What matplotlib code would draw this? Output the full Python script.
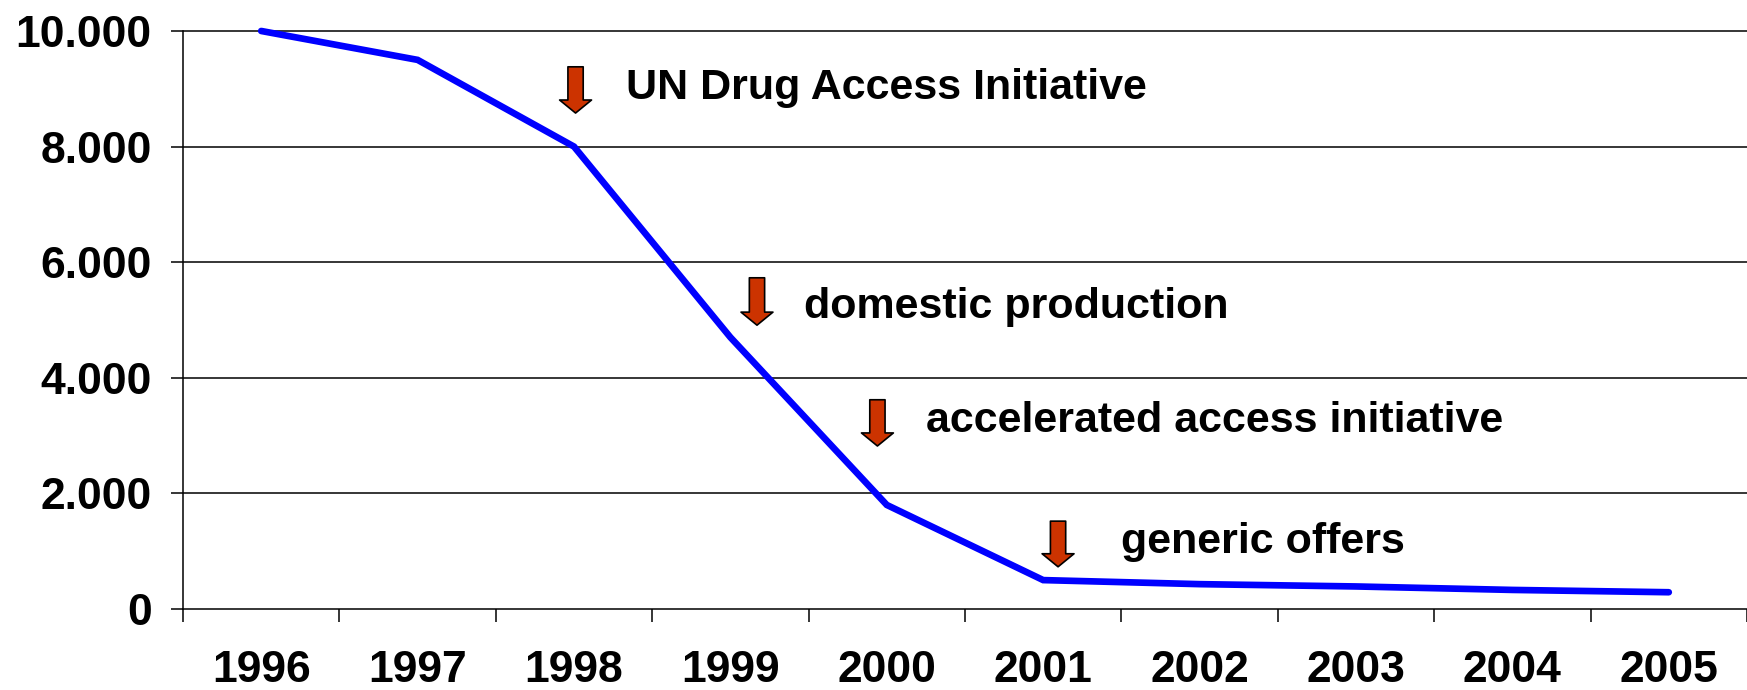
import numpy as np
import matplotlib
matplotlib.use("Agg")
import matplotlib.pyplot as plt

# Data
years = ["1996", "1997", "1998", "1999", "2000", "2001", "2002", "2003", "2004", "2005"]
values = [10000, 9500, 8000, 4700, 1800, 500, 430, 390, 330, 290]
y_ticks = [0, 2000, 4000, 6000, 8000, 10000]
y_tick_labels = ["0", "2.000", "4.000", "6.000", "8.000", "10.000"]

# Event labels with arrow x position, arrow top/bottom and text anchor (data units)
events = ["UN Drug Access Initiative", "domestic production",
          "accelerated access initiative", "generic offers"]
arrow_x = [2.01, 3.17, 3.94, 5.095]
arrow_top = [9380, 5730, 3620, 1520]
arrow_bottom = [8580, 4910, 2820, 730]
text_x = [2.33, 3.47, 4.25, 5.50]
text_y = [9010, 5230, 3260, 1160]

plt.rcParams["font.family"] = ["Liberation Sans", "DejaVu Sans"]
plt.rcParams["font.weight"] = "bold"

fig = plt.figure(figsize=(17.47, 6.90), dpi=100)
ax = fig.add_axes([183 / 1747, 81 / 690, 1 - 183 / 1747, 583.8 / 690])

x = np.arange(len(years))
ax.plot(x, values, color="#0000FF", linewidth=4.8, solid_capstyle="round",
        solid_joinstyle="miter", zorder=3)

# horizontal gridlines
for yt in y_ticks[1:]:
    ax.axhline(yt, color="black", linewidth=1.1, zorder=1)

ax.set_xlim(-0.5, 9.436)
ax.set_ylim(0, 10100)

for s in ["top", "right"]:
    ax.spines[s].set_visible(False)
ax.spines["left"].set_bounds(0, 10000)
ax.spines["left"].set_linewidth(1.1)
ax.spines["bottom"].set_linewidth(1.1)

ax.set_yticks(y_ticks)
ax.set_yticklabels(y_tick_labels)
ax.tick_params(axis="y", length=8.6, width=1.1, pad=14, labelsize=32)

# year labels at category centres, ticks at category boundaries
ax.set_xticks(x)
ax.set_xticklabels(years)
ax.set_xticks(np.arange(len(years) + 1) - 0.5, minor=True)
ax.tick_params(axis="x", which="major", length=0, pad=29.5, labelsize=32)
ax.tick_params(axis="x", which="minor", length=9.4, width=1.1)

for label in ax.get_xticklabels() + ax.get_yticklabels():
    label.set_fontweight("bold")

# red arrows with event texts
for i in range(len(events)):
    ax.annotate("", xy=(arrow_x[i], arrow_bottom[i]), xytext=(arrow_x[i], arrow_top[i]),
                arrowprops=dict(arrowstyle="simple,head_length=0.94,head_width=2.3,tail_width=1.1",
                                mutation_scale=10, fc="#CC3300", ec="black", lw=1.2,
                                shrinkA=0, shrinkB=0),
                zorder=4)
    ax.text(text_x[i], text_y[i], events[i], fontsize=31, fontweight="bold",
            ha="left", va="center", zorder=4)

fig.savefig("out.png", dpi=100)
